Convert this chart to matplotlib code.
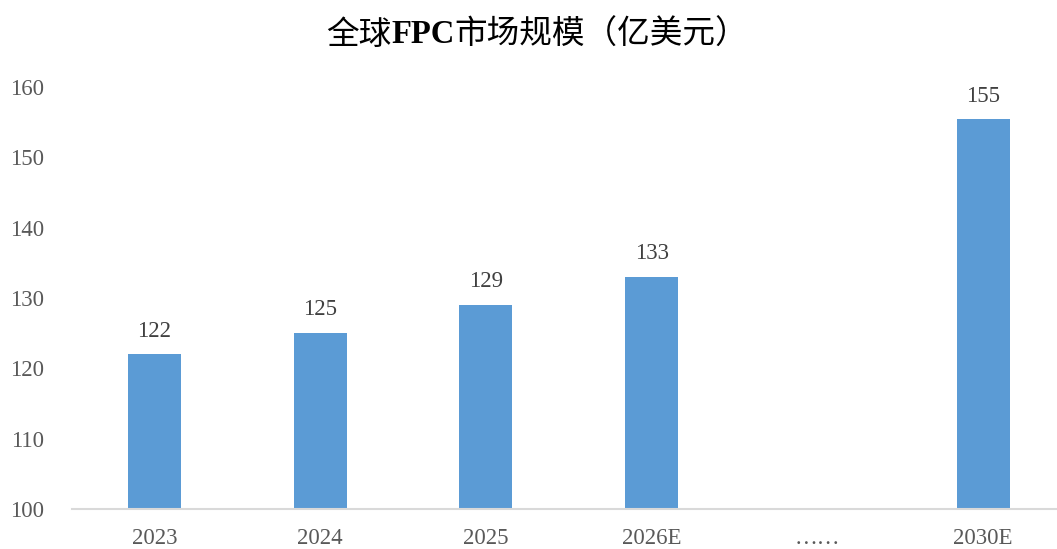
import matplotlib.pyplot as plt

# ==============================
# DATA
# ==============================

categories = ['2023', '2024', '2025', '2026E', '……', '2030E']
values = [122, 125, 129, 133, None, 155.4]

bar_color = '#5B9BD5'
text_color = '#595959'
serif = ['Liberation Serif', 'Noto Sans CJK SC']

# ==============================
# PLOT
# ==============================

fig = plt.figure(figsize=(10.57, 5.49), dpi=100)
ax = fig.add_axes([0.0677, 0.0729, 0.9408, 0.7687])

xs = [i for i, v in enumerate(values) if v is not None]
ys = [v for v in values if v is not None]

ax.bar(xs, [y - 100 for y in ys], bottom=100, width=0.32, color=bar_color, zorder=2)

for x, y in zip(xs, ys):
    ax.text(x, y + 1.8, f'{y:.0f}', ha='center', va='bottom',
            fontsize=16.5, color='#404040', family=serif)

ax.set_xlim(-0.5, 5.5)
ax.set_ylim(100, 160)
ax.set_yticks(range(100, 161, 10))
ax.set_xticks(range(len(categories)))
ax.set_xticklabels(categories)

for lbl in ax.get_xticklabels() + ax.get_yticklabels():
    lbl.set_family(serif)
    lbl.set_fontsize(16.5)
    lbl.set_color(text_color)

ax.tick_params(axis='both', length=0)
ax.tick_params(axis='x', pad=14)
ax.tick_params(axis='y', pad=20)

for side in ['top', 'right', 'left']:
    ax.spines[side].set_visible(False)
ax.spines['bottom'].set_color('#D9D9D9')
ax.spines['bottom'].set_linewidth(1.5)

# ==============================
# TITLE (CJK + bold serif FPC)
# ==============================

title_parts = [
    ('全球', 'Noto Sans CJK SC', 'medium'),
    ('FPC', 'Liberation Serif', 'bold'),
    ('市场规模（亿美元）', 'Noto Sans CJK SC', 'medium'),
]

renderer = fig.canvas.get_renderer()
pieces = []
for txt, fam, wt in title_parts:
    t = fig.text(0, 0.937, txt, ha='left', va='center', fontsize=23.5,
                 fontweight=wt, family=fam, color='black')
    pieces.append(t)

widths = [p.get_window_extent(renderer).width for p in pieces]
total = sum(widths)
x0 = 537 - total / 2
for p, w in zip(pieces, widths):
    p.set_x(x0 / fig.bbox.width)
    x0 += w

plt.savefig('out.png', dpi=100)
plt.close()
